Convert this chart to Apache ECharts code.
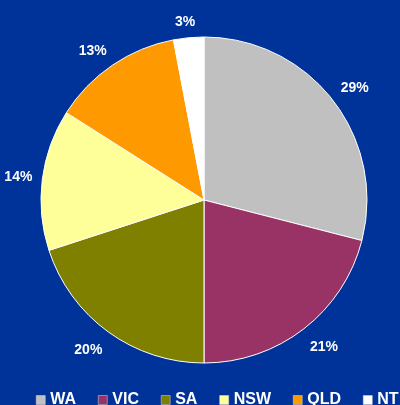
<!DOCTYPE html>
<html>
<head>
<meta charset="utf-8">
<script src="https://cdn.jsdelivr.net/npm/echarts@6/dist/echarts.min.js"></script>
<style>
  html, body { margin: 0; padding: 0; background: #003399; }
  #chart { width: 400px; height: 405px; }
</style>
</head>
<body>
<div id="chart"></div>
<script>
// Share of total by state
const states = ['WA', 'VIC', 'SA', 'NSW', 'QLD', 'NT'];
const shares = [29, 21, 20, 14, 13, 3];
const sliceColors = ['#C0C0C0', '#993366', '#808000', '#FFFF99', '#FF9900', '#FFFFFF'];

const pieCenter = [204, 200];
const pieRadius = 163;
const labelAnchorRadius = 173;

const total = shares.reduce((a, b) => a + b, 0);
const startShare = [];
shares.reduce((acc, v, i) => { startShare[i] = acc; return acc + v; }, 0);

const pieData = states.map((name, i) => ({
  name: name,
  value: shares[i],
  itemStyle: { color: sliceColors[i] }
}));

const labelFont = {
  color: '#FFFFFF',
  fontFamily: 'Liberation Sans, Arial, sans-serif',
  fontWeight: 'bold',
  fontSize: 14
};

// Place each percentage label just beyond the rim, with the box corner
// nearest the pie sitting on the slice's mid-angle ray.
function placeLabel(params) {
  const i = params.dataIndex;
  const mid = (startShare[i] + shares[i] / 2) / total * Math.PI * 2;
  const ux = Math.sin(mid);
  const uy = -Math.cos(mid);
  const px = pieCenter[0] + labelAnchorRadius * ux;
  const py = pieCenter[1] + labelAnchorRadius * uy;
  const halfW = 14;
  const halfH = uy > 0 ? 10 : 6;
  const f = t => Math.max(-1, Math.min(1, 2 * t));
  return {
    x: px + halfW * f(ux),
    y: py + halfH * f(uy),
    align: 'center',
    verticalAlign: 'middle'
  };
}

const chart = echarts.init(document.getElementById('chart'), null, { renderer: 'canvas' });

chart.setOption({
  backgroundColor: '#003399',
  animation: false,
  legend: {
    data: states,
    left: 36,
    top: 392,
    width: 700,
    orient: 'horizontal',
    itemWidth: 9,
    itemHeight: 9,
    itemGap: 22,
    icon: 'rect',
    itemStyle: { borderColor: '#D8D8D8', borderWidth: 0.5 },
    textStyle: Object.assign({}, labelFont, { fontSize: 16 }),
    padding: 0
  },
  series: [
    {
      type: 'pie',
      center: pieCenter,
      radius: [0, pieRadius],
      startAngle: 90,
      clockwise: true,
      silent: true,
      data: pieData,
      itemStyle: { borderColor: '#FFFFFF', borderWidth: 1 },
      label: Object.assign({
        show: true,
        position: 'outside',
        width: 44,
        overflow: 'none',
        formatter: p => p.value + '%'
      }, labelFont),
      labelLine: { show: false },
      labelLayout: placeLabel,
      emphasis: { disabled: true }
    }
  ]
});
</script>
</body>
</html>
